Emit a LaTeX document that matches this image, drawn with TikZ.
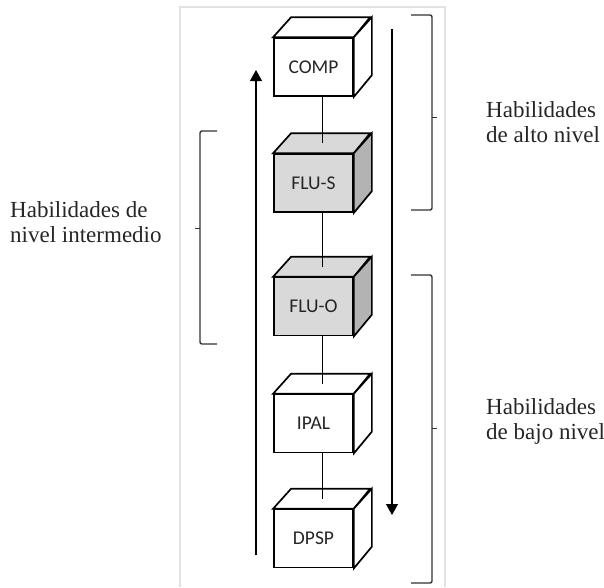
\documentclass[tikz,border=0pt]{standalone}
\usepackage{fontspec}
\setmainfont{Liberation Serif}
\newfontfamily\boxfont{Carlito}
\usetikzlibrary{arrows.meta,calc}
\definecolor{framegray}{HTML}{E2E2E2}
\definecolor{lightfill}{HTML}{D9D9D9}
\definecolor{sidefill}{HTML}{B3B3B3}
\definecolor{bracketgray}{HTML}{333333}
\definecolor{labelgray}{HTML}{262626}
\tikzset{
  cube/.style={draw=black, line width=1.7pt, minimum width=79pt, minimum height=58pt,
    inner sep=0pt, font=\boxfont\fontsize{19.5}{22}\selectfont, text=labelgray},
  cubeline/.style={draw=black, line width=1.7pt, line join=miter},
  conn/.style={draw=black, line width=0.8pt},
  arr/.style={draw=black, line width=1.2pt, -{Triangle[width=12pt,length=11pt]}},
  brk/.style={draw=bracketgray, line width=1.4pt, rounded corners=2pt},
  tick/.style={draw=bracketgray, line width=1pt},
  lbl/.style={font=\fontsize{23}{25}\selectfont, align=left, inner sep=0pt, text=black!85}
}
\newcommand{\cubefaces}[3]{%
  \filldraw[cubeline, fill=#2] (#1.north west) -- ++(18,-20) -- ++(79,0) -- (#1.north east) -- cycle;
  \filldraw[cubeline, fill=#3] (#1.north east) -- ++(18,-20) -- ++(0,58) -- (#1.south east) -- cycle;
}
\begin{document}
\begin{tikzpicture}[x=1pt,y=-1pt]
\useasboundingbox (0,0) rectangle (604,587);
% frame
\draw[framegray, line width=1.5pt] (180,587) -- (180,7) -- (445,7) -- (445,587);
% cubes
\node[cube, fill=white] (comp) at (313.5,67) {COMP};
\cubefaces{comp}{white}{white}
\node[cube, fill=lightfill] (flus) at (313.5,183) {FLU-S};
\cubefaces{flus}{lightfill}{sidefill}
\node[cube, fill=lightfill] (fluo) at (313.5,306.5) {FLU-O};
\cubefaces{fluo}{lightfill}{sidefill}
\node[cube, fill=white] (ipal) at (313.5,423.5) {IPAL};
\cubefaces{ipal}{white}{white}
\node[cube, fill=white] (dpsp) at (313.5,538.5) {DPSP};
\cubefaces{dpsp}{white}{white}
% top-face centres
\coordinate (flusT) at ($(flus.north)+(9,-10)$);
\coordinate (fluoT) at ($(fluo.north)+(9,-10)$);
\coordinate (ipalT) at ($(ipal.north)+(9,-10)$);
\coordinate (dpspT) at ($(dpsp.north)+(9,-10)$);
% connectors
\draw[conn] (comp.south -| flusT) -- (flusT);
\draw[conn] (flus.south -| fluoT) -- (fluoT);
\draw[conn] (fluo.south -| ipalT) -- (ipalT);
\draw[conn] (ipal.south -| dpspT) -- (dpspT);
% arrows
\coordinate (upS) at (256,555);
\coordinate (upE) at (256,70);
\draw[arr] (upS) -- (upE);
\coordinate (dnS) at (392,29);
\coordinate (dnE) at (392,515);
\draw[arr] (dnS) -- (dnE);
% brackets
\draw[brk] (411,15) -- (432,15) -- (432,210) -- (411,210);
\draw[tick] (432,117) -- (437,117);
\draw[brk] (411,275) -- (432,275) -- (432,583) -- (411,583);
\draw[tick] (432,428) -- (437,428);
\draw[brk] (217,131) -- (200,131) -- (200,344) -- (217,344);
\draw[tick] (200,228) -- (195,228);
% labels
\node[lbl, anchor=west] (lmid) at (10,222) {Habilidades de\\nivel intermedio};
\node[lbl, anchor=west] (lhigh) at (486,122) {Habilidades\\de alto nivel};
\node[lbl, anchor=west] (llow) at (486,421.5) {Habilidades\\de bajo nivel};
\end{tikzpicture}
\end{document}
